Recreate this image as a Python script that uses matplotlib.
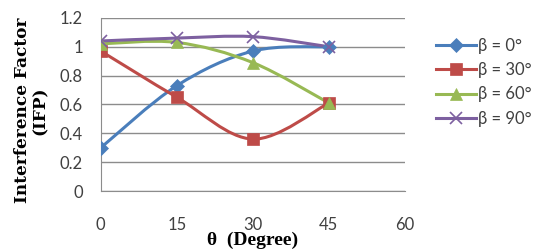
import numpy as np
import matplotlib
matplotlib.use("Agg")
import matplotlib.pyplot as plt
from matplotlib.path import Path
from matplotlib.patches import PathPatch
from matplotlib.lines import Line2D

theta = [0, 15, 30, 45]
x_ticks = [0, 15, 30, 45, 60]
beta_0 = [0.30, 0.73, 0.97, 1.00]
beta_30 = [0.97, 0.65, 0.36, 0.61]
beta_60 = [1.02, 1.03, 0.89, 0.61]
beta_90 = [1.04, 1.06, 1.07, 1.00]
labels = ["β = 0°", "β = 30°", "β = 60°", "β = 90°"]


def smooth_path(x, y):
    # Excel-style smoothed line: cubic Bezier through each point
    p = np.column_stack([x, y]).astype(float)
    ext = np.vstack([p[0], p, p[-1]])
    verts = [p[0]]
    codes = [Path.MOVETO]
    for i in range(len(p) - 1):
        c1 = p[i] + (ext[i + 2] - ext[i]) / 6.0
        c2 = p[i + 1] - (ext[i + 3] - ext[i + 1]) / 6.0
        verts += [c1, c2, p[i + 1]]
        codes += [Path.CURVE4] * 3
    return Path(verts, codes)


fig = plt.figure(figsize=(5.6, 2.52), dpi=100)
ax = fig.add_axes([0.180, 0.242, 0.543, 0.687])

series = [
    (beta_0, "#4A7EBB", "D", 7),
    (beta_30, "#BE4B48", "s", 9),
    (beta_60, "#98B954", "^", 8),
    (beta_90, "#7D60A0", "x", 9),
]
handles = []
for vals, col, mk, ms in series:
    mew = 1.2 if mk == "x" else 0.5
    ax.add_patch(PathPatch(smooth_path(theta, vals), fill=False,
                           edgecolor=col, linewidth=2.2, zorder=3))
    ax.plot(theta, vals, linestyle="none", marker=mk, markersize=ms,
            color=col, markeredgewidth=mew, zorder=4)
    handles.append(Line2D([], [], color=col, linewidth=2.2, marker=mk,
                          markersize=ms, markeredgewidth=mew))

ax.set_xlim(0, 60)
ax.set_ylim(0, 1.2)
ax.set_xticks(x_ticks)
ax.set_xticklabels([str(t) for t in x_ticks], family="Lato")
ax.set_yticks(np.arange(0, 1.21, 0.2))
ax.set_yticklabels(["0", "0.2", "0.4", "0.6", "0.8", "1", "1.2"], family="Lato")
ax.tick_params(length=0, labelsize=12, labelcolor="#404040")
ax.tick_params(axis="x", pad=19)
ax.tick_params(axis="y", pad=13)
ax.yaxis.grid(True, color="#8C8C8C", linewidth=1.0)
ax.set_axisbelow(True)
for s in ["top", "right"]:
    ax.spines[s].set_visible(False)
ax.spines["left"].set_color("#8C8C8C")
ax.spines["bottom"].set_color("#8C8C8C")

ax.set_xlabel("θ  (Degree)", family="Liberation Serif", weight="bold",
              size=14, labelpad=-1)
# wider serif so the rotated title spans the same height as the original
ax.set_ylabel("Interference Factor\n(IFP)", family="DejaVu Serif",
              weight="bold", size=12.2, linespacing=1.05)
ax.yaxis.set_label_coords(-0.17, 0.465)

fig.legend(handles, labels, loc="upper left", bbox_to_anchor=(0.752, 0.91),
           frameon=False, prop={"family": "Lato", "size": 12},
           handlelength=2.4, handletextpad=0.1,
           labelspacing=0.5, labelcolor="#404040")

fig.savefig("out.png", dpi=100)
